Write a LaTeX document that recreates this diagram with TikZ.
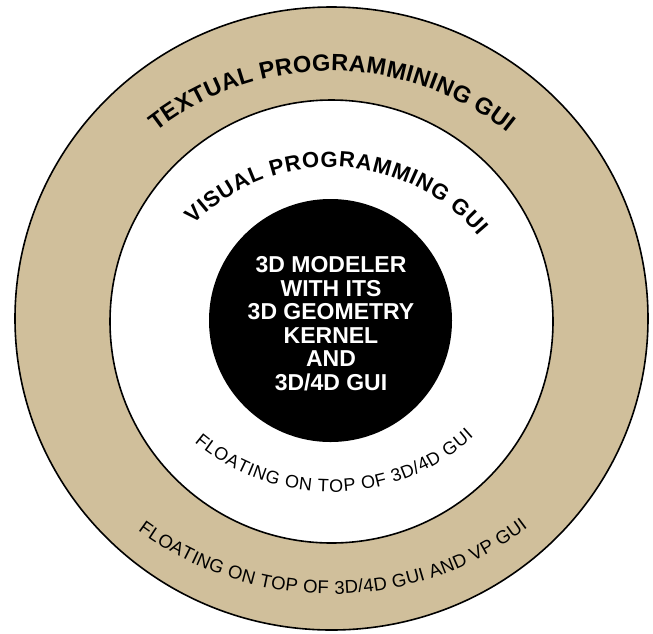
\documentclass[tikz,border=0pt]{standalone}
\usepackage{fontspec}
\setmainfont{Liberation Sans}
\usetikzlibrary{decorations.text}
\definecolor{ringtan}{RGB}{208,191,155}
\begin{document}
\begin{tikzpicture}[x=1pt,y=1pt,
  ringline/.style={draw=black, line width=1.6pt},
  arctext/.style={decorate, decoration={text along path, text align=fit to path, text={#1}}}]
\useasboundingbox (0,0) rectangle (653,-633);
\fill[white] (0,0) rectangle (653,-633);
% rings
\draw[ringline, fill=ringtan] (331.5,-318.5) ellipse [x radius=316.5, y radius=311.5];
\draw[ringline, fill=white] (331.5,-321.5) circle [radius=221.5];
\node[circle, fill=black, minimum size=243pt, inner sep=0pt] (core) at (330.5,-320.5) {};
\node[text=white, align=center, font=\bfseries\fontsize{23}{23.5}\selectfont] (coretext) at (331,-323.5)
  {3D MODELER\\WITH ITS\\3D GEOMETRY\\KERNEL\\AND\\3D/4D GUI};
% curved labels
\path[arctext={|\bfseries\fontsize{23.5}{24}\selectfont|TEXTUAL PROGRAMMINING GUI}]
  ([shift={(331,-355)}]128:284) arc [start angle=128, end angle=51.5, radius=284];
\path[arctext={|\bfseries\fontsize{22}{24}\selectfont|VISUAL PROGRAMMING GUI}]
  ([shift={(331,-360)}]135.3:193) arc [start angle=135.3, end angle=40.1, radius=193];
\path[arctext={|\fontsize{18}{20}\selectfont|FLOATING ON TOP OF 3D/4D GUI}]
  ([shift={(331,-280)}]229.9:212) arc [start angle=229.9, end angle=312.3, radius=212];
\path[arctext={|\fontsize{18.5}{20}\selectfont|FLOATING ON TOP OF 3D/4D GUI AND VP GUI}]
  ([shift={(331,-268)}]233.7:326) arc [start angle=233.7, end angle=307.1, radius=326];
\end{tikzpicture}
\end{document}
